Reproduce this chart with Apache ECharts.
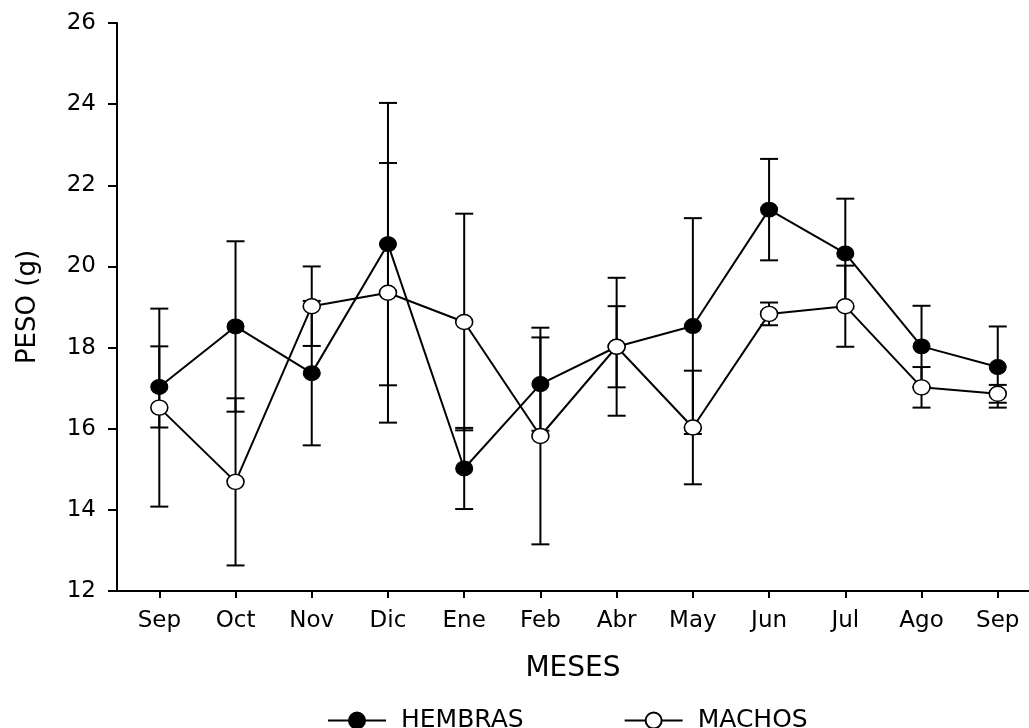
<!DOCTYPE html>
<html>
<head>
<meta charset="utf-8">
<script src="https://cdn.jsdelivr.net/npm/echarts@6/dist/echarts.min.js"></script>
<style>
  html, body { margin: 0; padding: 0; background: #fff; }
  #myChart { width: 1029px; height: 728px; }
</style>
</head>
<body>
<div id="myChart"></div>
<script>
const months = ["Sep", "Oct", "Nov", "Dic", "Ene", "Feb", "Abr", "May", "Jun", "Jul", "Ago", "Sep"];
const yTicks = [12, 14, 16, 18, 20, 22, 24, 26];

const hembras = [17.03, 18.52, 17.37, 20.55, 15.02, 17.1, 18.02, 18.53, 21.4, 20.32, 18.03, 17.52];
const hembrasErr = [1.0, 2.1, 1.78, 3.48, 1.0, 1.15, 1.7, 2.66, 1.25, 1.35, 1.0, 1.0];
const machos = [16.52, 14.69, 19.02, 19.35, 18.63, 15.82, 18.02, 16.03, 18.83, 19.02, 17.02, 16.86];
const machosErr = [2.44, 2.06, 0.98, 3.2, 2.67, 2.67, 1.0, 1.4, 0.28, 1.0, 0.5, 0.22];

const myEcharts = echarts.init(document.getElementById("myChart"));
const font = "DejaVu Sans";
const idx = months.map((m, i) => i);

function errData(vals, errs) {
  return vals.map((v, i) => [i, v - errs[i], v + errs[i]]);
}

function renderErr(params, api) {
  const x = api.value(0);
  const bot = api.coord([x, api.value(1)]);
  const top = api.coord([x, api.value(2)]);
  const hw = 9;
  const st = { stroke: "#000", lineWidth: 2 };
  return {
    type: "group",
    children: [
      { type: "line", shape: { x1: top[0], y1: top[1], x2: bot[0], y2: bot[1] }, style: st },
      { type: "line", shape: { x1: top[0] - hw, y1: top[1], x2: top[0] + hw, y2: top[1] }, style: st },
      { type: "line", shape: { x1: bot[0] - hw, y1: bot[1], x2: bot[0] + hw, y2: bot[1] }, style: st },
    ],
  };
}

let option = {
  animation: false,
  backgroundColor: "#fff",
  grid: { left: 117, right: 0, top: 23, bottom: 137 },
  legend: {
    data: ["HEMBRAS", "MACHOS"],
    left: 322,
    top: 703,
    itemWidth: 58,
    itemHeight: 20,
    itemGap: 100,
    textStyle: { fontFamily: font, fontSize: 25, color: "#000", padding: [0, 0, 0, 10] },
  },
  xAxis: {
    type: "value",
    min: -0.555,
    max: 11.41,
    name: "MESES",
    nameLocation: "middle",
    nameGap: 64,
    nameTextStyle: { fontFamily: font, fontSize: 28, color: "#000" },
    splitLine: { show: false },
    axisLine: { onZero: false, lineStyle: { color: "#000", width: 2 } },
    axisTick: { customValues: idx, length: 7, lineStyle: { color: "#000", width: 2 } },
    axisLabel: {
      customValues: idx,
      margin: 19,
      fontFamily: font,
      fontSize: 23,
      color: "#000",
      formatter: (v) => months[Math.round(v)],
    },
  },
  yAxis: {
    type: "value",
    min: 12,
    max: 26,
    interval: 2,
    name: "PESO (g)",
    nameLocation: "middle",
    nameGap: 76,
    nameTextStyle: { fontFamily: font, fontSize: 26, color: "#000" },
    splitLine: { show: false },
    axisLine: { show: true, onZero: false, lineStyle: { color: "#000", width: 2 } },
    axisTick: { show: true, length: 9, lineStyle: { color: "#000", width: 2 } },
    axisLabel: {
      margin: 21,
      fontFamily: font,
      fontSize: 23,
      color: "#000",
      formatter: (v) => (yTicks.indexOf(v) >= 0 ? v : ""),
    },
  },
  series: [
    {
      name: "HEMBRAS err",
      type: "custom",
      renderItem: renderErr,
      encode: { x: 0, y: [1, 2] },
      data: errData(hembras, hembrasErr),
      z: 1,
    },
    {
      name: "MACHOS err",
      type: "custom",
      renderItem: renderErr,
      encode: { x: 0, y: [1, 2] },
      data: errData(machos, machosErr),
      z: 1,
    },
    {
      name: "HEMBRAS",
      type: "line",
      symbol: "circle",
      symbolSize: [17, 15],
      showAllSymbol: true,
      lineStyle: { color: "#000", width: 2 },
      itemStyle: { color: "#000", borderColor: "#000", borderWidth: 1 },
      data: hembras.map((v, i) => [i, v]),
      z: 3,
    },
    {
      name: "MACHOS",
      type: "line",
      symbol: "circle",
      symbolSize: [17, 15],
      showAllSymbol: true,
      lineStyle: { color: "#000", width: 2 },
      itemStyle: { color: "#fff", borderColor: "#000", borderWidth: 1.5 },
      data: machos.map((v, i) => [i, v]),
      z: 4,
    },
  ],
};
myEcharts.setOption(option);

window.onresize = function () {
  myEcharts.resize();
};
</script>
</body>
</html>
